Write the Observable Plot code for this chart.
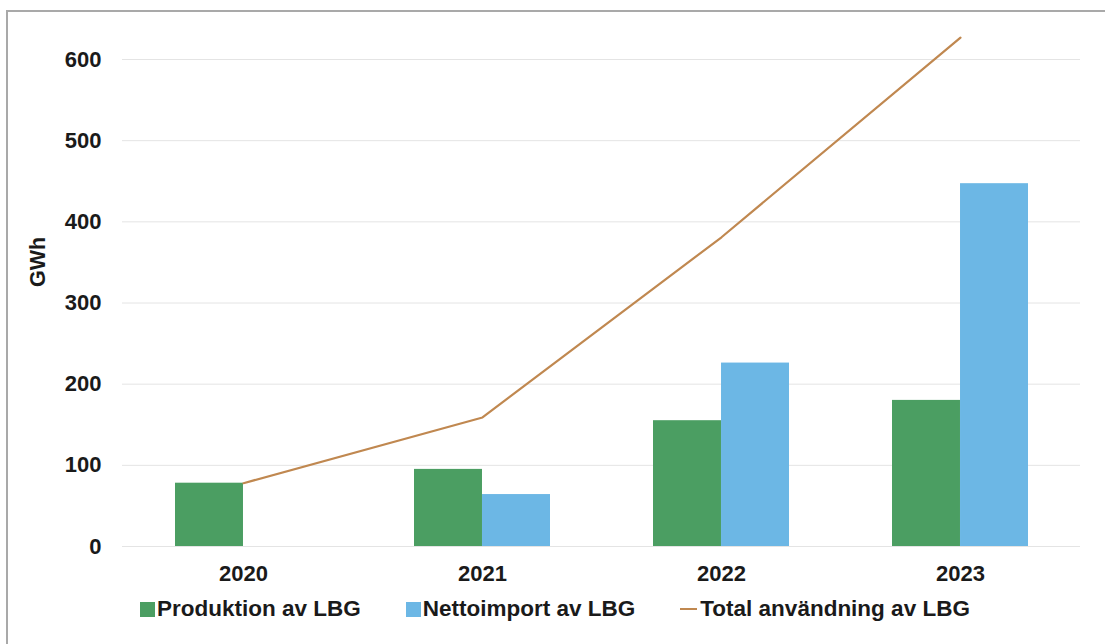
<!DOCTYPE html>
<html>
<head>
<meta charset="utf-8">
<script src="https://cdn.jsdelivr.net/npm/d3@7"></script>
<script src="https://cdn.jsdelivr.net/npm/@observablehq/plot@0.6"></script>
<style>
  html, body { margin: 0; padding: 0; background: #fff; }
  body { width: 1105px; height: 644px; position: relative; overflow: hidden;
         font-family: "Liberation Sans", Arial, sans-serif; }
  #frame { position: absolute; left: 6px; top: 10px; width: 1200px; height: 700px;
           border: 2px solid #a9a9a9; box-sizing: border-box; }
  #chart { position: absolute; left: 0; top: 0; }
  #ylabel { position: absolute; left: 38px; top: 262px; transform: translate(-50%, -50%) rotate(-90deg);
            font-size: 21.5px; font-weight: bold; color: #1a1a1a; white-space: nowrap; }
  #legend { position: absolute; left: 140px; top: 596px; display: flex; gap: 45px;
            font-size: 22.5px; font-weight: bold; color: #1a1a1a; white-space: nowrap; }
  .item { display: flex; align-items: center; }
  .sw { display: inline-block; width: 15px; height: 15px; margin-right: 2px; }
  .ln { display: inline-block; width: 17px; height: 2px; margin-right: 3px; }
</style>
</head>
<body>
<div id="frame"></div>
<div id="chart"></div>
<div id="ylabel">GWh</div>
<div id="legend"></div>
<script>
const years = ["2020", "2021", "2022", "2023"];
const produktion = [78, 95, 155, 180];
const nettoimport = [0, 64, 226, 447];
const total = [78, 159, 381, 627];
const yTicks = [0, 100, 200, 300, 400, 500, 600];
const seriesNames = ["Produktion av LBG", "Nettoimport av LBG", "Total användning av LBG"];
const colors = ["#4b9e62", "#6cb7e5", "#c08850"];

const rows = years.map((y, i) => ({year: y, prod: produktion[i], imp: nettoimport[i], tot: total[i]}));

const W = 1105, H = 600, mL = 122, mR = 25;
const step = (W - mL - mR) / 4;
const bw = step * (1 - 0.432);
const half = bw / 2;

const plot = Plot.plot({
  width: W,
  height: H,
  marginLeft: mL,
  marginRight: mR,
  marginTop: 59,
  marginBottom: 54,
  style: {fontFamily: "Liberation Sans, Arial, sans-serif", fontSize: "22px", fontWeight: "bold", color: "#1a1a1a", background: "transparent"},
  x: {type: "band", domain: years, paddingInner: 0.432, paddingOuter: 0.216, label: null},
  y: {domain: [0, 600], label: null},
  marks: [
    Plot.gridY(yTicks, {stroke: "#e4e4e4", strokeOpacity: 1, strokeWidth: 1}),
    Plot.barY(rows, {x: "year", y: "prod", fill: colors[0], insetRight: half}),
    Plot.barY(rows, {x: "year", y: "imp", fill: colors[1], insetLeft: half}),
    Plot.lineY(rows, {x: "year", y: "tot", stroke: colors[2], strokeWidth: 2.2}),
    Plot.axisY({ticks: yTicks, tickSize: 0, tickPadding: 21, label: null}),
    Plot.axisX({tickSize: 0, tickPadding: 19, label: null})
  ]
});
document.getElementById("chart").appendChild(plot);

const legend = document.getElementById("legend");
seriesNames.forEach((name, i) => {
  const item = document.createElement("span");
  item.className = "item";
  const sw = document.createElement("span");
  sw.className = i < 2 ? "sw" : "ln";
  sw.style.background = colors[i];
  item.appendChild(sw);
  item.appendChild(document.createTextNode(name));
  legend.appendChild(item);
});
</script>
</body>
</html>
